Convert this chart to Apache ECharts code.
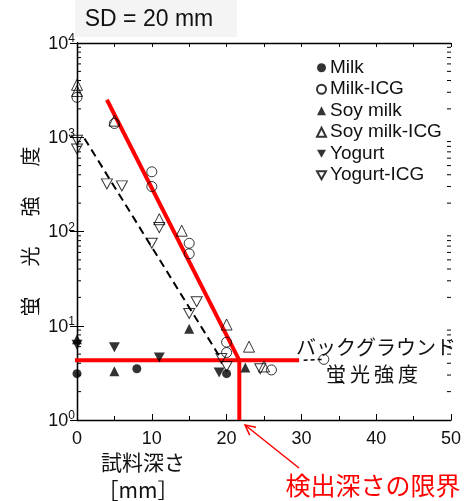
<!DOCTYPE html>
<html><head><meta charset="utf-8">
<script src="https://cdn.jsdelivr.net/npm/echarts@6/dist/echarts.min.js"></script>
<style>html,body{margin:0;padding:0;background:#fff}#chart{width:464px;height:501px}</style>
</head><body><div id="chart"></div>
<script>
// Axis ranges
const xTicks = [0, 10, 20, 30, 40, 50];
const yDecades = [1, 10, 100, 1000, 10000];

// Measured fluorescence intensity vs. sample depth [mm]
const milk       = [[0, 3.1], [8, 3.5], [20, 3.1]];
const milkICG    = [[0, 2650], [5, 1400], [10, 430], [10, 300], [15, 75], [15, 58], [20, 6.7], [20, 5.2], [26, 3.4], [33, 4.4]];
const soyMilk    = [[0, 7.2], [5, 3.3], [15, 9.3], [22.5, 3.6]];
const soyMilkICG = [[0, 3600], [0, 3100], [5, 1500], [11, 135], [14, 102], [20, 10.3], [23, 6.0], [25, 3.7]];
const yogurt     = [[0, 6.3], [5, 5.9], [11, 4.6], [19, 3.2]];
const yogurtICG  = [[0, 930], [0, 750], [4, 320], [6, 305], [10, 75], [11, 110], [16, 18], [15, 13.5], [19.3, 4.5], [20, 3.7], [24.5, 3.5]];

// Guide lines
const icgFit         = [[4, 2500], [21.7, 4.3]];
const plainFit       = [[1, 970], [19.3, 4.4]];
const background     = [[-0.6, 4.3], [29.7, 4.3]];
const backgroundTail = [[30.3, 4.3], [32.8, 4.4]];
const depthLimit     = [[21.7, 4.3], [21.7, 1]];

// log minor ticks 2..9 in every decade
const minorTicks = [];
yDecades.slice(0, -1).forEach(d => { for (let m = 2; m <= 9; m++) minorTicks.push([0, d * m]); });

const FONT = "'Liberation Sans', Arial, sans-serif";
const JP = "'Noto Sans CJK JP', sans-serif";
const downTri = 'path://M0,0L10,0L5,9Z';

const chart = echarts.init(document.getElementById('chart'));

function scatter(name, data, symbol, size, filled) {
  return {
    name, type: 'scatter', data, symbol, symbolSize: size,
    itemStyle: filled ? { color: '#000' } : { color: 'transparent', borderColor: '#000', borderWidth: 1 },
    z: 4, silent: true
  };
}
function guide(data, color, width, type, z) {
  return {
    type: 'line', data, symbol: 'none', silent: true, clip: false, z: z || 3,
    lineStyle: { color, width, type: type || 'solid' }, animation: false
  };
}

chart.setOption({
  animation: false,
  grid: { left: 77, right: 12, top: 43, bottom: 81 },
  xAxis: [{
    type: 'value', min: xTicks[0], max: xTicks[xTicks.length - 1], interval: 10,
    axisLine: { lineStyle: { color: '#000', width: 1.3 } },
    axisTick: { inside: true, length: 6, lineStyle: { color: '#000' } },
    minorTick: { show: true, splitNumber: 2, length: 4, lineStyle: { color: '#000' } },
    splitLine: { show: false },
    axisLabel: { fontFamily: FONT, fontSize: 18, color: '#111', margin: 10 }
  }, {
    type: 'value', min: 0, max: 50, interval: 5, position: 'top',
    axisLine: { lineStyle: { color: '#000', width: 1.3 } },
    axisTick: { inside: true, length: 4, lineStyle: { color: '#000' } },
    splitLine: { show: false }, axisLabel: { show: false }
  }],
  yAxis: [{
    type: 'log', logBase: 10, min: yDecades[0], max: yDecades[yDecades.length - 1],
    axisLine: { lineStyle: { color: '#000', width: 1.3 } },
    axisTick: { inside: true, length: 7, lineStyle: { color: '#000' } },
    splitLine: { show: false },
    axisLabel: {
      margin: 2,
      formatter: v => '{b|10}{s|' + Math.round(Math.log10(v)) + '}',
      rich: {
        b: { fontFamily: FONT, fontSize: 18, color: '#111', lineHeight: 20, verticalAlign: 'bottom' },
        s: { fontFamily: FONT, fontSize: 12, color: '#111', lineHeight: 12, verticalAlign: 'top', padding: [0, 0, 8, 0] }
      }
    },
    name: '蛍\u3000\u2002光\u3000\u2002強\u3000\u2002度',
    nameLocation: 'middle', nameRotate: 90, nameGap: 37, nameMoveOverlap: false,
    nameTextStyle: { fontFamily: JP, fontSize: 20, color: '#111' }
  }, {
    type: 'log', logBase: 10, min: 1, max: 10000, position: 'right',
    axisLine: { lineStyle: { color: '#000', width: 1.3 } },
    axisTick: { inside: true, length: 7, lineStyle: { color: '#000' } },
    splitLine: { show: false }, axisLabel: { show: false }
  }],
  legend: {
    orient: 'vertical', left: 311, top: 53,
    itemWidth: 9, itemHeight: 9, itemGap: 2, selectedMode: false,
    textStyle: { fontFamily: FONT, fontSize: 19, color: '#111', lineHeight: 19.5, padding: [0, 0, 0, -1] },
    data: ['Milk', 'Milk-ICG', 'Soy milk', 'Soy milk-ICG', 'Yogurt', 'Yogurt-ICG']
  },
  series: [
    guide(plainFit, '#000', 2, [8, 5], 2),
    guide(backgroundTail, '#000', 1.5, [4, 3], 2),
    guide(icgFit, '#ff0000', 4),
    guide(background, '#ff0000', 4),
    guide(depthLimit, '#ff0000', 4),
    scatter('Milk', milk, 'circle', 9, true),
    scatter('Milk-ICG', milkICG, 'circle', 10, false),
    scatter('Soy milk', soyMilk, 'triangle', 10, true),
    scatter('Soy milk-ICG', soyMilkICG, 'triangle', 11, false),
    scatter('Yogurt', yogurt, downTri, [11, 10], true),
    scatter('Yogurt-ICG', yogurtICG, downTri, [11, 10], false),
    {
      type: 'custom', silent: true, clip: false, z: 5, data: minorTicks,
      renderItem(params, api) {
        const v = api.value(1);
        const l = api.coord([0, v]);
        const r = api.coord([50, v]);
        return {
          type: 'group', children: [
            { type: 'line', shape: { x1: l[0], y1: l[1], x2: l[0] + 4, y2: l[1] }, style: { stroke: '#000', lineWidth: 1 } },
            { type: 'line', shape: { x1: r[0], y1: r[1], x2: r[0] - 4, y2: r[1] }, style: { stroke: '#000', lineWidth: 1 } }
          ]
        };
      }
    }
  ]
});

// Annotations: title box, axis title, background label, detection-limit note
const tip = [245, 425], tail = [299, 468];
const dx = tip[0] - tail[0], dy = tip[1] - tail[1], len = Math.hypot(dx, dy);
const ux = dx / len, uy = dy / len, ah = 10, aw = 5;
const headA = [tip[0] - ux * ah - uy * aw, tip[1] - uy * ah + ux * aw];
const headB = [tip[0] - ux * ah + uy * aw, tip[1] - uy * ah - ux * aw];

chart.setOption({
  graphic: [
    { type: 'rect', left: 75, top: 0, shape: { width: 162, height: 37 }, style: { fill: '#f4f4f4' }, z: 0, silent: true },
    { type: 'text', x: 149, y: 20, style: { text: 'SD = 20 mm', fontFamily: FONT, fontSize: 23, fill: '#111', align: 'center', verticalAlign: 'middle' }, z: 10 },
    { type: 'text', x: 143, y: 462, style: { text: '試料深さ', fontFamily: JP, fontSize: 21, fill: '#111', align: 'center', verticalAlign: 'middle' }, z: 10 },
    { type: 'text', x: 138, y: 490, style: { text: '［mm］', fontFamily: JP, fontSize: 21, fill: '#111', align: 'center', verticalAlign: 'middle' }, z: 10 },
    { type: 'text', x: 296, y: 347, style: { text: 'バックグラウンド', fontFamily: JP, fontSize: 20, fill: '#111', align: 'left', verticalAlign: 'middle' }, z: 10 },
    { type: 'text', x: 372, y: 374, style: { text: '蛍\u2009光\u2009強\u2009度', fontFamily: JP, fontSize: 20, fill: '#111', align: 'center', verticalAlign: 'middle' }, z: 10 },
    { type: 'text', x: 373, y: 485, style: { text: '検出深さの限界', fontFamily: JP, fontSize: 25, fill: '#ff0000', align: 'center', verticalAlign: 'middle' }, z: 10 },
    { type: 'line', shape: { x1: tail[0], y1: tail[1], x2: tip[0], y2: tip[1] }, style: { stroke: '#ff0000', lineWidth: 1.5 }, z: 10 },
    { type: 'polyline', shape: { points: [headA, tip, headB] }, style: { stroke: '#ff0000', lineWidth: 1.5, fill: null }, z: 10 }
  ]
});
</script>
</body></html>
